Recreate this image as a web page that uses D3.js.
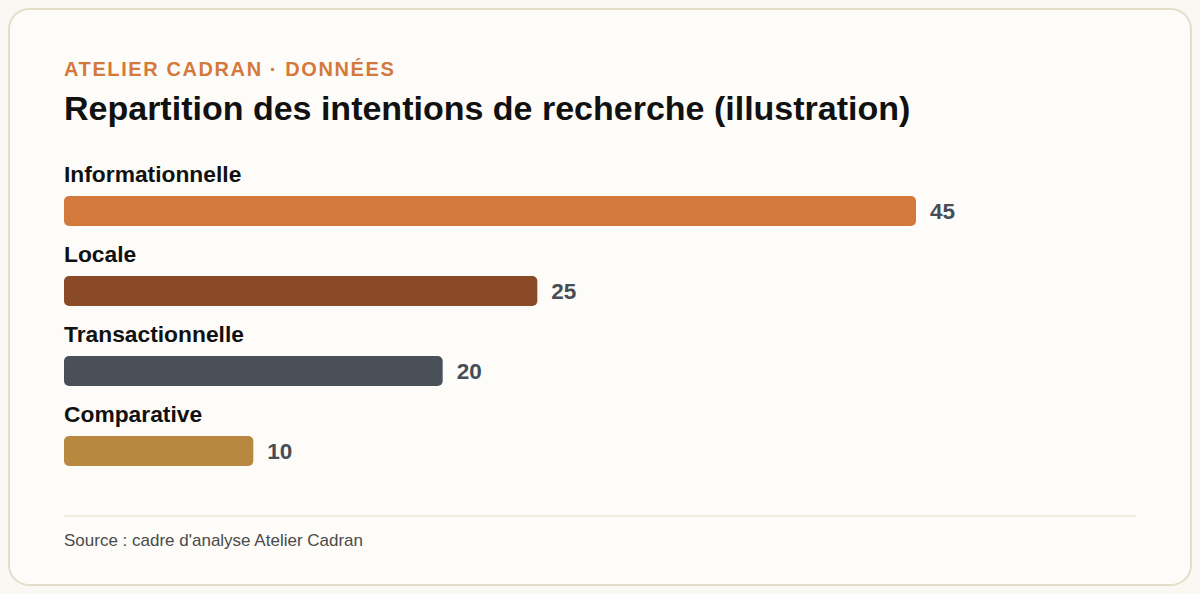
<!DOCTYPE html>
<html>
<head>
<meta charset="utf-8">
<script src="https://cdn.jsdelivr.net/npm/d3@7"></script>
<style>
 html, body { margin: 0; padding: 0; background: #faf8f2; }
 body { width: 1200px; height: 594px; overflow: hidden; font-family: "Liberation Sans", Arial, sans-serif; }
</style>
</head>
<body>
<div id="chart"></div>
<script>
 //Chart data.
 var categories = ["Informationnelle", "Locale", "Transactionnelle", "Comparative"];
 var values = [45, 25, 20, 10];
 var barColors = ["#d4793c", "#8b4a27", "#4a5057", "#b98840"];

 var width = 1200, height = 594;
 var left = 64;

 var svg = d3.select("#chart").append("svg").attr("width", width).attr("height", height);

 //Card.
 svg.append("rect").attr("x", 9).attr("y", 9).attr("width", 1182).attr("height", 576)
  .attr("rx", 20).attr("fill", "#fdfcf8").attr("stroke", "#e3dec9").attr("stroke-width", 2);

 //Header.
 svg.append("text").attr("x", left).attr("y", 76).text("ATELIER CADRAN · DONNÉES")
  .attr("font-size", 20).attr("font-weight", "bold").attr("letter-spacing", 1.6).attr("fill", "#d4793c");
 svg.append("text").attr("x", left).attr("y", 120).text("Repartition des intentions de recherche (illustration)")
  .attr("font-size", 34).attr("font-weight", "bold").attr("fill", "#111111");

 //Scales.
 var x = d3.scaleLinear().domain([0, 45]).range([0, 852]);
 var y = d3.scaleBand().domain(categories).range([160, 480]);

 var rows = svg.selectAll("g.row").data(categories).enter().append("g").attr("class", "row")
  .attr("transform", function(d) { return "translate(" + left + "," + y(d) + ")"; });

 rows.append("text").text(function(d) { return d; }).attr("x", 0).attr("y", 22)
  .attr("font-size", 22.8).attr("font-weight", "bold").attr("fill", "#111111");

 rows.append("rect").attr("x", 0).attr("y", 36).attr("height", 30).attr("rx", 5)
  .attr("width", function(d, i) { return x(values[i]); })
  .attr("fill", function(d, i) { return barColors[i]; });

 rows.append("text").text(function(d, i) { return values[i]; })
  .attr("x", function(d, i) { return x(values[i]) + 14; }).attr("y", 59)
  .attr("font-size", 22.5).attr("font-weight", "bold").attr("fill", "#474d55");

 //Footer.
 svg.append("line").attr("x1", left).attr("x2", 1136).attr("y1", 516).attr("y2", 516)
  .attr("stroke", "#ebe6d6").attr("stroke-width", 1.5);
 svg.append("text").attr("x", left).attr("y", 546).text("Source : cadre d'analyse Atelier Cadran")
  .attr("font-size", 17).attr("fill", "#4a4a4a");
</script>
</body>
</html>
